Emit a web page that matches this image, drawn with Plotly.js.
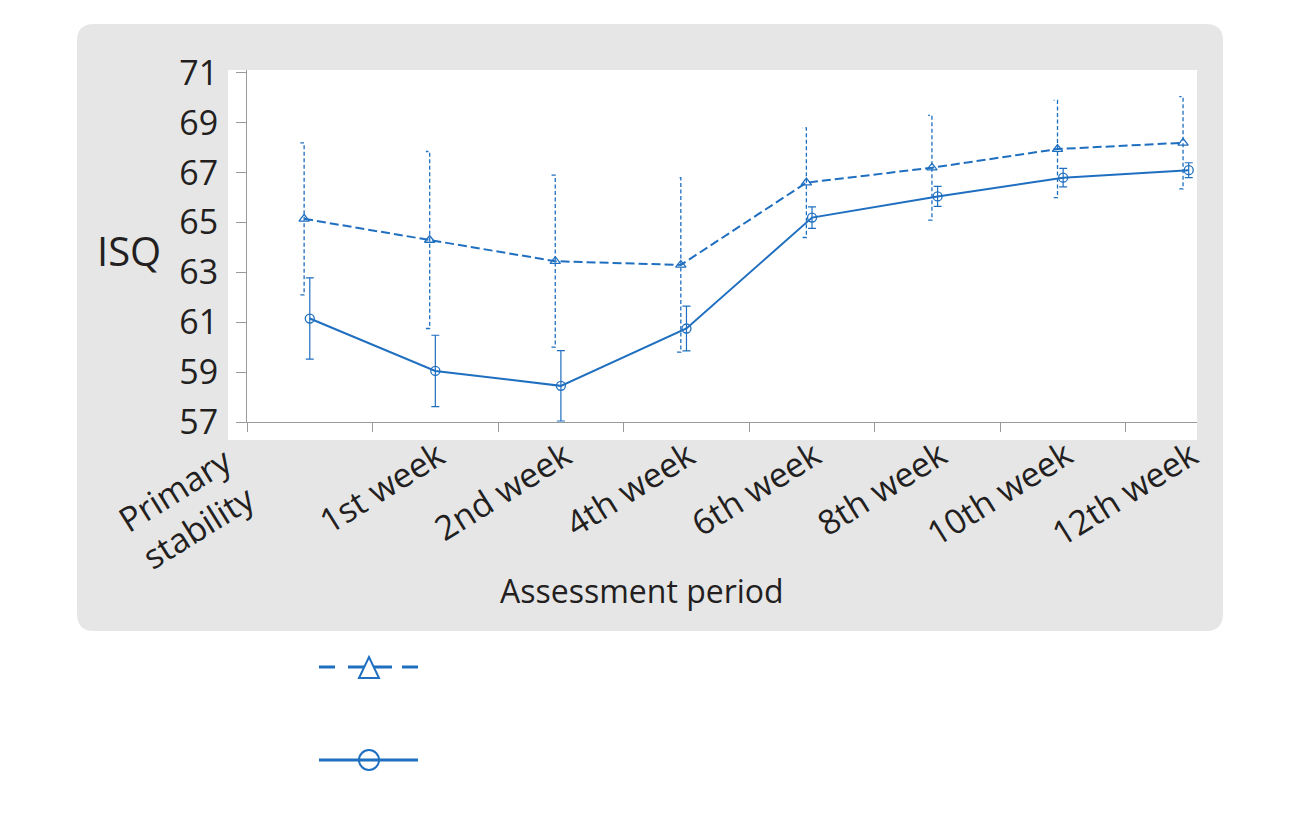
<!DOCTYPE html>
<html>
<head>
<meta charset="utf-8">
<script src="https://cdn.plot.ly/plotly-3.0.1.min.js"></script>
<style>
  html, body { margin: 0; padding: 0; background: #ffffff; }
  #chart { width: 1300px; height: 833px; }
</style>
</head>
<body>
<div id="chart"></div>
<script>
// Assessment periods (x categories)
const periods = ["Primary<br>stability", "1st week", "2nd week", "4th week",
                 "6th week", "8th week", "10th week", "12th week"];

// ISQ mean and standard deviation, dashed series (triangles)
const dashedMean = [65.15, 64.3, 63.45, 63.3, 66.6, 67.2, 67.95, 68.2];
const dashedSD   = [3.05, 3.55, 3.45, 3.5, 2.2, 2.1, 1.95, 1.85];

// ISQ mean and standard deviation, solid series (circles)
const solidMean = [61.15, 59.05, 58.45, 60.75, 65.2, 66.05, 66.8, 67.1];
const solidSD   = [1.63, 1.43, 1.41, 0.9, 0.43, 0.4, 0.37, 0.3];

// y axis tick values
const yTicks = [57, 59, 61, 63, 65, 67, 69, 71];

// ---- layout geometry (pixels) ----
const W = 1300, H = 833;
const L = 247, R = 1197, T = 70, B = 422;
const px = x => (x - L) / (R - L);
const py = y => (B - y) / (B - T);

const blue = "#1f6fc0";
const textColor = "#231f20";
const axisGray = "#9a9a9a";
const font = "Open Sans, Noto Sans, sans-serif";

const xRange = [-0.5, 7.066];
const catPx = (R - L) / (xRange[1] - xRange[0]);          // pixels per period
const periodCentrePx = i => L + (i - xRange[0]) * catPx;
const dashOffset = -0.045;   // triangles sit slightly left of each period centre
const capW = 0.03;           // one-sided cap length for dashed whiskers

const idx = periods.map((_, i) => i);
const dashedX = idx.map(i => i + dashOffset);

// dashed whiskers with caps pointing left, built from mean ± SD
const whiskX = [], whiskY = [];
dashedMean.forEach((m, i) => {
  const x = dashedX[i], lo = m - dashedSD[i], hi = m + dashedSD[i];
  whiskX.push(x - capW, x, x, x - capW, null);
  whiskY.push(lo, lo, hi, hi, null);
});

const traces = [
  // holds the category axis
  { x: periods, y: periods.map(() => null), xaxis: "x", yaxis: "y",
    type: "scatter", mode: "markers", showlegend: false, hoverinfo: "skip" },
  // dashed whiskers
  { x: whiskX, y: whiskY, xaxis: "x2", yaxis: "y", type: "scatter", mode: "lines",
    line: { color: blue, width: 1.3, dash: "4px,2.5px" }, showlegend: false, hoverinfo: "skip" },
  // dashed series
  { x: dashedX, y: dashedMean, xaxis: "x2", yaxis: "y", type: "scatter", mode: "lines+markers",
    line: { color: blue, width: 2, dash: "9px,4px" },
    marker: { symbol: "triangle-up-open", size: 9, color: blue, line: { width: 1.3, color: blue } },
    showlegend: false },
  // solid series with SD error bars
  { x: idx, y: solidMean, xaxis: "x2", yaxis: "y", type: "scatter", mode: "lines+markers",
    line: { color: blue, width: 2 },
    marker: { symbol: "circle-open", size: 9, color: blue, line: { width: 1.3, color: blue } },
    error_y: { type: "data", array: solidSD, visible: true, color: blue, thickness: 1.2, width: 4 },
    showlegend: false }
];

// rounded grey panel
const gx0 = 77, gx1 = 1223, gy0 = 24, gy1 = 631, rr = 17;
const panelPath =
  `M${px(gx0 + rr)},${py(gy0)} L${px(gx1 - rr)},${py(gy0)} ` +
  `Q${px(gx1)},${py(gy0)} ${px(gx1)},${py(gy0 + rr)} ` +
  `L${px(gx1)},${py(gy1 - rr)} Q${px(gx1)},${py(gy1)} ${px(gx1 - rr)},${py(gy1)} ` +
  `L${px(gx0 + rr)},${py(gy1)} Q${px(gx0)},${py(gy1)} ${px(gx0)},${py(gy1 - rr)} ` +
  `L${px(gx0)},${py(gy0 + rr)} Q${px(gx0)},${py(gy0)} ${px(gx0 + rr)},${py(gy0)} Z`;

// legend keys (drawn below the panel)
const keyX0 = 319, keyX1 = 418, keyMid = 369, keyY1 = 667, keyY2 = 760;
const keyShapes = [
  // dashed key: three dash pieces, triangle on top
  ...[[319, 335], [348, 392], [402, 418]].map(([a, b]) => ({
    type: "line", xref: "paper", yref: "paper",
    x0: px(a), x1: px(b), y0: py(keyY1), y1: py(keyY1),
    line: { color: blue, width: 3 } })),
  { type: "path", xref: "paper", yref: "paper",
    xsizemode: "pixel", ysizemode: "pixel", xanchor: px(keyMid), yanchor: py(keyY1),
    path: "M-10,-11 L10,-11 L0,10 Z",
    fillcolor: "#ffffff", line: { color: blue, width: 2 } },
  // solid key: line with open circle
  { type: "line", xref: "paper", yref: "paper",
    x0: px(keyX0), x1: px(keyX1), y0: py(keyY2), y1: py(keyY2),
    line: { color: blue, width: 3 } },
  { type: "circle", xref: "paper", yref: "paper",
    xsizemode: "pixel", ysizemode: "pixel", xanchor: px(keyMid), yanchor: py(keyY2),
    x0: -10, x1: 10, y0: -10, y1: 10,
    fillcolor: "rgba(0,0,0,0)", line: { color: blue, width: 2 } }
];

// rotated period labels under the axis (right/top of the rotated box, in pixels)
const periodLabels = periods.map((p, i) => {
  const twoLine = p.includes("<br>");
  const right = twoLine ? 266 : periodCentrePx(i) + 20;
  const top = twoLine ? 434 : 428;
  return {
    text: p, xref: "paper", yref: "paper",
    x: px(right), y: py(top),
    xanchor: "right", yanchor: "top", textangle: -32, align: "center",
    showarrow: false,
    font: { family: font, size: 34, color: textColor }
  };
});

const layout = {
  width: W, height: H,
  margin: { l: L, r: W - R, t: T, b: H - B, pad: 0 },
  paper_bgcolor: "#ffffff",
  plot_bgcolor: "rgba(0,0,0,0)",
  font: { family: font, color: textColor },
  showlegend: false,
  xaxis: {
    type: "category", categoryorder: "array", categoryarray: periods,
    range: xRange, tickson: "boundaries",
    showgrid: false, zeroline: false,
    showline: true, linecolor: axisGray, linewidth: 1,
    ticks: "outside", ticklen: 9, tickcolor: axisGray, tickwidth: 1,
    showticklabels: false,
    fixedrange: true
  },
  xaxis2: { overlaying: "x", range: xRange, visible: false, fixedrange: true },
  yaxis: {
    range: [57, 71.12], tickvals: yTicks, ticktext: yTicks.map(String),
    showgrid: false, zeroline: false,
    showline: true, linecolor: axisGray, linewidth: 1,
    ticks: "outside", ticklen: 10, tickcolor: axisGray, tickwidth: 1,
    ticklabelstandoff: 11,
    tickfont: { family: font, size: 34, color: textColor },
    fixedrange: true
  },
  shapes: [
    { type: "path", xref: "paper", yref: "paper", path: panelPath,
      fillcolor: "#e6e6e7", line: { width: 0 }, layer: "below" },
    { type: "rect", xref: "paper", yref: "paper",
      x0: px(228), x1: px(1197), y0: py(440), y1: py(70),
      fillcolor: "#ffffff", line: { width: 0 }, layer: "below" },
    ...keyShapes
  ],
  annotations: [
    ...periodLabels,
    { text: "ISQ", xref: "paper", yref: "paper", x: px(129), y: py(250),
      xanchor: "center", yanchor: "middle", showarrow: false,
      font: { family: font, size: 40, color: textColor } },
    { text: "Assessment period", xref: "paper", yref: "paper", x: px(642), y: py(590),
      xanchor: "center", yanchor: "middle", showarrow: false,
      font: { family: font, size: 32, color: textColor } }
  ]
};

Plotly.newPlot("chart", traces, layout, { staticPlot: true, displayModeBar: false });
</script>
</body>
</html>
